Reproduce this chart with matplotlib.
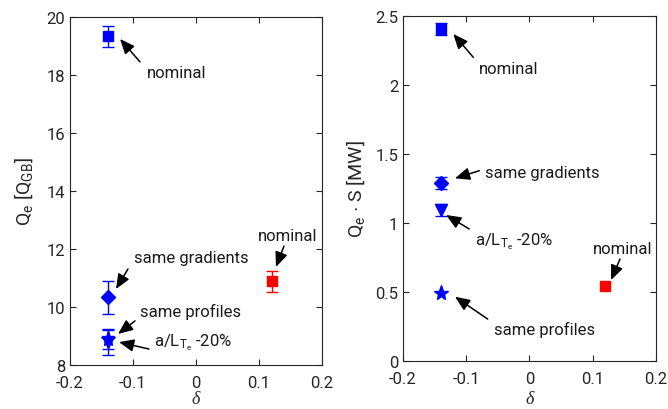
"""Q_e vs triangularity delta, two panels (GB units and MW)."""
import matplotlib
matplotlib.use('Agg')
import matplotlib.pyplot as plt

plt.rcParams['font.family'] = ['Roboto', 'DejaVu Sans']
plt.rcParams['mathtext.fontset'] = 'custom'
plt.rcParams['mathtext.rm'] = 'Roboto'
plt.rcParams['mathtext.it'] = 'Roboto:italic'

# data
cases = ['nominal', 'same gradients', 'same profiles', 'a/L_Te -20%', 'nominal (pos)']
delta = [-0.14, -0.14, -0.14, -0.14, 0.12]
markers = ['s', 'D', '*', 'v', 's']
colors = ['b', 'b', 'b', 'b', 'r']

qe_gb = [19.33, 10.33, 8.88, 8.78, 10.88]
qe_gb_err = [0.37, 0.57, 0.33, 0.45, 0.35]

qe_mw = [2.406, 1.288, 0.493, 1.095, 0.541]
qe_mw_err = [0.045, 0.045, 0.0, 0.045, 0.0]

TXT = '#262626'
msizes = {'s': 7.5, 'D': 7, '*': 11, 'v': 8}

fig = plt.figure(figsize=(6.68, 4.10), dpi=100)
ax1 = fig.add_axes([0.1048, 0.1073, 0.3772, 0.849])
ax2 = fig.add_axes([0.6033, 0.117, 0.3787, 0.8415])


def draw(ax, vals, errs):
    for x, y, e, m, c in zip(delta, vals, errs, markers, colors):
        ax.errorbar(x, y, yerr=e if e > 0 else None, fmt=m, color=c, mfc=c, mec=c,
                    ms=msizes[m], capsize=4, elinewidth=1, capthick=1)


def arrow(ax, tip, tail):
    ax.annotate('', xy=tip, xytext=tail,
                arrowprops=dict(arrowstyle='-|>,head_length=0.9,head_width=0.38',
                                color='k', lw=1.1, shrinkA=0, shrinkB=0))


def style(ax, lpad):
    ax.set_xlim(-0.2, 0.2)
    ax.set_xticks([-0.2, -0.1, 0, 0.1, 0.2])
    ax.set_xticklabels(['-0.2', '-0.1', '0', '0.1', '0.2'])
    ax.tick_params(direction='in', top=True, right=True, labelsize=12,
                   colors=TXT, length=4, width=0.8)
    ax.tick_params(axis='x', pad=7)
    for s in ax.spines.values():
        s.set_color(TXT)
        s.set_linewidth(0.8)
    ax.set_xlabel('δ', fontsize=13, color=TXT, labelpad=lpad,
                  fontfamily='Liberation Serif', fontstyle='italic')


# left panel
draw(ax1, qe_gb, qe_gb_err)
style(ax1, 0)
ax1.set_ylim(8, 20)
ax1.set_yticks(range(8, 21, 2))
ax1.set_ylabel(r'Q$_\mathrm{e}$ [Q$_\mathrm{GB}$]', fontsize=14, color=TXT, labelpad=8)

kw = dict(fontsize=12, color='#1a1a1a', va='center', ha='left')
arrow(ax1, (-0.1206, 19.24), (-0.0889, 18.45))
ax1.text(-0.0778, 18.07, 'nominal', **kw)
arrow(ax1, (-0.127, 10.62), (-0.108, 11.31))
ax1.text(-0.0984, 11.72, 'same gradients', **kw)
arrow(ax1, (0.127, 11.38), (0.1397, 12.10))
ax1.text(0.0984, 12.45, 'nominal', **kw)
arrow(ax1, (-0.1238, 9.07), (-0.0968, 9.52))
ax1.text(-0.0889, 9.86, 'same profiles', **kw)
arrow(ax1, (-0.1222, 8.79), (-0.0746, 8.55))
ax1.text(-0.0667, 8.79, r'a/L$_{\mathrm{T}_\mathrm{e}}$ -20%', **kw)

# right panel
draw(ax2, qe_mw, qe_mw_err)
style(ax2, 3)
ax2.set_ylim(0, 2.5)
ax2.set_yticks([0, 0.5, 1, 1.5, 2, 2.5])
ax2.set_yticklabels(['0', '0.5', '1', '1.5', '2', '2.5'])
ax2.set_ylabel(r'Q$_\mathrm{e}$ $\cdot$ S [MW]', fontsize=14, color=TXT, labelpad=6)

arrow(ax2, (-0.1205, 2.370), (-0.0889, 2.201))
ax2.text(-0.0794, 2.123, 'nominal', **kw)
arrow(ax2, (-0.1178, 1.324), (-0.0794, 1.379))
ax2.text(-0.0709, 1.366, 'same gradients', **kw)
arrow(ax2, (-0.1319, 1.058), (-0.0953, 0.957))
ax2.text(-0.0865, 0.875, r'a/L$_{\mathrm{T}_\mathrm{e}}$ -20%', **kw)
arrow(ax2, (0.1289, 0.587), (0.1431, 0.739))
ax2.text(0.1009, 0.817, 'nominal', **kw)
arrow(ax2, (-0.1178, 0.466), (-0.0661, 0.304))
ax2.text(-0.0561, 0.232, 'same profiles', **kw)

fig.savefig('out.png', dpi=100, facecolor='white')
